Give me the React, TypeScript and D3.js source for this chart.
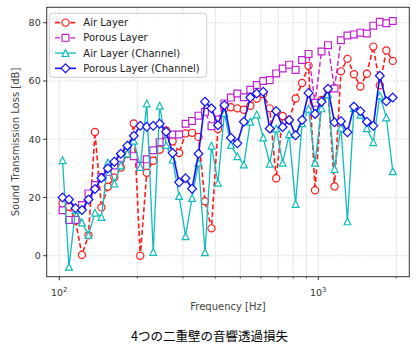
import React from "react";
import * as d3 from "d3";

const frequencies = [
  102.9, 109.0, 115.5, 122.3, 129.6, 137.3, 145.4, 154.0, 163.1, 172.8,
  183.1, 193.9, 205.4, 217.6, 230.5, 244.1, 258.6, 273.8, 290.1, 307.3,
  325.5, 344.7, 365.2, 386.8, 409.7, 434.0, 459.7, 486.9, 515.7, 546.3,
  578.7, 613.0, 649.3, 687.7, 728.5, 771.6, 817.3, 865.7, 917.0, 971.4,
  1029, 1090, 1155, 1223, 1296, 1373, 1454, 1540, 1631, 1728,
  1831, 1939,
];

const airLayer = [
  18.0, 16.8, 12.0, 0.3, 7.0, 42.5, 16.6, 23.7, 26.9, 30.3,
  35.0, 45.4, 0.0, 28.5, 32.6, 36.4, 43.0, 39.3, 35.3, 42.0,
  42.2, 40.8, 18.7, 9.4, 43.5, 50.6, 51.0, 50.6, 50.1, 51.5,
  54.0, 55.5, 50.6, 26.6, 48.0, 46.5, 54.0, 59.3, 65.2, 22.5,
  53.5, 57.0, 23.8, 63.3, 67.6, 62.3, 58.1, 62.5, 71.8, 58.5,
  70.5, 66.9,
];

const porousLayer = [
  15.6, 12.3, 12.3, 17.4, 21.4, 24.3, 27.0, 28.8, 31.0, 33.6,
  36.8, 34.2, 30.9, 33.1, 36.2, 39.0, 41.7, 41.6, 41.6, 45.3,
  46.3, 48.1, 49.4, 44.5, 46.8, 52.3, 54.3, 55.7, 54.4, 57.0,
  58.6, 60.0, 60.3, 62.6, 64.3, 65.6, 63.8, 67.2, 69.3, 52.5,
  70.1, 72.3, 57.4, 74.0, 75.6, 76.0, 76.6, 76.3, 79.0, 80.3,
  79.8, 80.6,
];

const airLayerChannel = [
  32.8, -3.8, 15.7, 11.4, 7.1, 14.8, 13.3, 32.0, 24.8, 31.0,
  35.1, 39.5, 30.5, 52.3, 1.3, 51.5, 38.0, 33.0, 20.5, 6.7,
  19.8, 32.0, 1.2, 37.8, 25.1, 49.0, 38.0, 34.2, 31.3, 46.0,
  48.5, 40.6, 31.6, 43.7, 31.9, 41.7, 17.8, 45.5, 50.5, 31.9,
  50.6, 55.5, 29.8, 44.0, 11.8, 50.7, 48.4, 43.8, 39.0, 55.0,
  47.5, 29.0,
];

const porousLayerChannel = [
  20.0, 19.3, 16.3, 15.7, 19.3, 22.9, 26.7, 30.0, 32.3, 35.0,
  37.8, 41.2, 44.6, 44.3, 44.6, 45.3, 42.6, 35.3, 25.2, 26.6,
  23.0, 35.0, 52.9, 50.6, 44.8, 51.7, 40.5, 38.6, 46.0, 54.3,
  55.7, 56.3, 43.7, 49.7, 44.2, 46.6, 41.4, 46.6, 55.9, 48.7,
  52.9, 57.3, 45.8, 46.2, 42.4, 51.2, 49.6, 46.0, 44.6, 61.8,
  53.0, 54.3,
];

const seriesNames = ["Air Layer", "Porous Layer", "Air Layer (Channel)", "Porous Layer (Channel)"];
const yTicks = [0, 20, 40, 60, 80];
const xMajorTicks = [100, 1000];
const xMajorExponents = ["2", "3"];
const xMinorTicks = [200, 300, 400, 500, 600, 700, 800, 900, 2000];
const xLabel = "Frequency [Hz]";
const yLabel = "Sound Transmission Loss [dB]";
const caption = "4つの二重壁の音響透過損失";

const W = 419;
const H = 356;
const plot = { left: 46.7, right: 409.3, top: 7.3, bottom: 276.7 };

const x = d3.scaleLog().domain([Math.pow(10, 1.9513), Math.pow(10, 3.3514)]).range([plot.left, plot.right]);
const y = d3.scaleLinear().domain([-7.2, 85.3]).range([plot.bottom, plot.top]);

type Shape = "circle" | "square" | "triangle" | "diamond";

function markerPath(shape: Shape, cx: number, cy: number): string {
  if (shape === "circle") {
    const r = 3.6;
    return `M${cx - r},${cy}a${r},${r} 0 1,0 ${2 * r},0a${r},${r} 0 1,0 ${-2 * r},0Z`;
  }
  if (shape === "square") {
    const s = 3.4;
    return `M${cx - s},${cy - s}H${cx + s}V${cy + s}H${cx - s}Z`;
  }
  if (shape === "triangle") {
    const s = 3.4;
    return `M${cx},${cy - s}L${cx + s},${cy + s}L${cx - s},${cy + s}Z`;
  }
  const d = 4.4;
  return `M${cx},${cy - d}L${cx + d},${cy}L${cx},${cy + d}L${cx - d},${cy}Z`;
}

const seriesData = [airLayer, porousLayer, airLayerChannel, porousLayerChannel];
const styles = [
  { color: "#ff1a1a", dash: "5,2.6", width: 1.6, shape: "circle" as Shape },
  { color: "#c020d0", dash: "5,2.6", width: 1.4, shape: "square" as Shape },
  { color: "#10bcbc", dash: "", width: 1.3, shape: "triangle" as Shape },
  { color: "#1010ff", dash: "", width: 1.6, shape: "diamond" as Shape },
];

export default function App() {
  const line = d3
    .line<[number, number]>()
    .x((d) => x(d[0]))
    .y((d) => y(d[1]));

  const font = "DejaVu Sans, sans-serif";
  const legendRows = seriesNames.map((_, k) => 22.6 + 15.25 * k);

  return (
    <svg
      width={W}
      height={H}
      style={{ position: "absolute", left: 0, top: 0, background: "#fff" }}
      fontFamily={font}
    >
      <rect x={0} y={0} width={W} height={H} fill="#fff" />
      {/* grid */}
      {[...xMajorTicks, ...xMinorTicks].map((t) => (
        <line key={"gx" + t} x1={x(t)} x2={x(t)} y1={plot.top} y2={plot.bottom} stroke="#e6e6e6" strokeWidth={1} />
      ))}
      {yTicks.map((t) => (
        <line key={"gy" + t} x1={plot.left} x2={plot.right} y1={y(t)} y2={y(t)} stroke="#dcdcdc" strokeWidth={1} strokeDasharray="2,1.5" />
      ))}

      {/* series */}
      {seriesData.map((vals, si) => {
        const st = styles[si];
        const pts: [number, number][] = vals.map((v, i) => [frequencies[i], v]);
        return (
          <g key={"s" + si}>
            <path d={line(pts) || ""} fill="none" stroke={st.color} strokeWidth={st.width} strokeDasharray={st.dash || undefined} strokeLinejoin="round" />
            {pts.map((p, i) => (
              <path key={i} d={markerPath(st.shape, x(p[0]), y(p[1]))} fill="#fff" stroke={st.color} strokeWidth={1.2} />
            ))}
          </g>
        );
      })}

      {/* frame */}
      <rect x={plot.left} y={plot.top} width={plot.right - plot.left} height={plot.bottom - plot.top} fill="none" stroke="#333" strokeWidth={1} />

      {/* y ticks */}
      {yTicks.map((t) => (
        <g key={"yt" + t}>
          <line x1={plot.left - 3.5} x2={plot.left} y1={y(t)} y2={y(t)} stroke="#333" strokeWidth={1} />
          <text x={plot.left - 6} y={y(t)} dy="0.35em" textAnchor="end" fontSize={9.5} fill="#333">
            {t}
          </text>
        </g>
      ))}

      {/* x ticks */}
      {xMajorTicks.map((t, k) => (
        <g key={"xt" + t}>
          <line x1={x(t)} x2={x(t)} y1={plot.bottom} y2={plot.bottom + 3.5} stroke="#333" strokeWidth={1} />
          <text x={x(t)} y={296} textAnchor="middle" fontSize={9.5} fill="#333">
            10
            <tspan fontSize={7} dy={-4}>
              {xMajorExponents[k]}
            </tspan>
          </text>
        </g>
      ))}
      {xMinorTicks.map((t) => (
        <line key={"xm" + t} x1={x(t)} x2={x(t)} y1={plot.bottom} y2={plot.bottom + 2} stroke="#333" strokeWidth={0.8} />
      ))}

      {/* axis labels */}
      <text x={(plot.left + plot.right) / 2} y={310} textAnchor="middle" fontSize={10} fill="#444">
        {xLabel}
      </text>
      <text transform={`translate(15,${(plot.top + plot.bottom) / 2}) rotate(-90)`} textAnchor="middle" dy="0.35em" fontSize={10} fill="#444">
        {yLabel}
      </text>

      {/* legend */}
      <rect x={49.3} y={13.3} width={157.4} height={64} rx={3} fill="#fff" fillOpacity={0.85} stroke="#cccccc" strokeWidth={1} />
      {seriesNames.map((name, k) => {
        const st = styles[k];
        const ly = legendRows[k];
        return (
          <g key={"lg" + k}>
            <line x1={55} x2={76} y1={ly} y2={ly} stroke={st.color} strokeWidth={st.width} strokeDasharray={st.dash || undefined} />
            <path d={markerPath(st.shape, 65.5, ly)} fill="#fff" stroke={st.color} strokeWidth={1.2} />
            <text x={83.3} y={ly} dy="0.35em" fontSize={10} fill="#222">
              {name}
            </text>
          </g>
        );
      })}

      {/* caption */}
      <text x={W / 2} y={337} dy="0.35em" textAnchor="middle" fontSize={12.5} fill="#000" fontFamily="'Noto Sans CJK JP', sans-serif">
        {caption}
      </text>
    </svg>
  );
}
